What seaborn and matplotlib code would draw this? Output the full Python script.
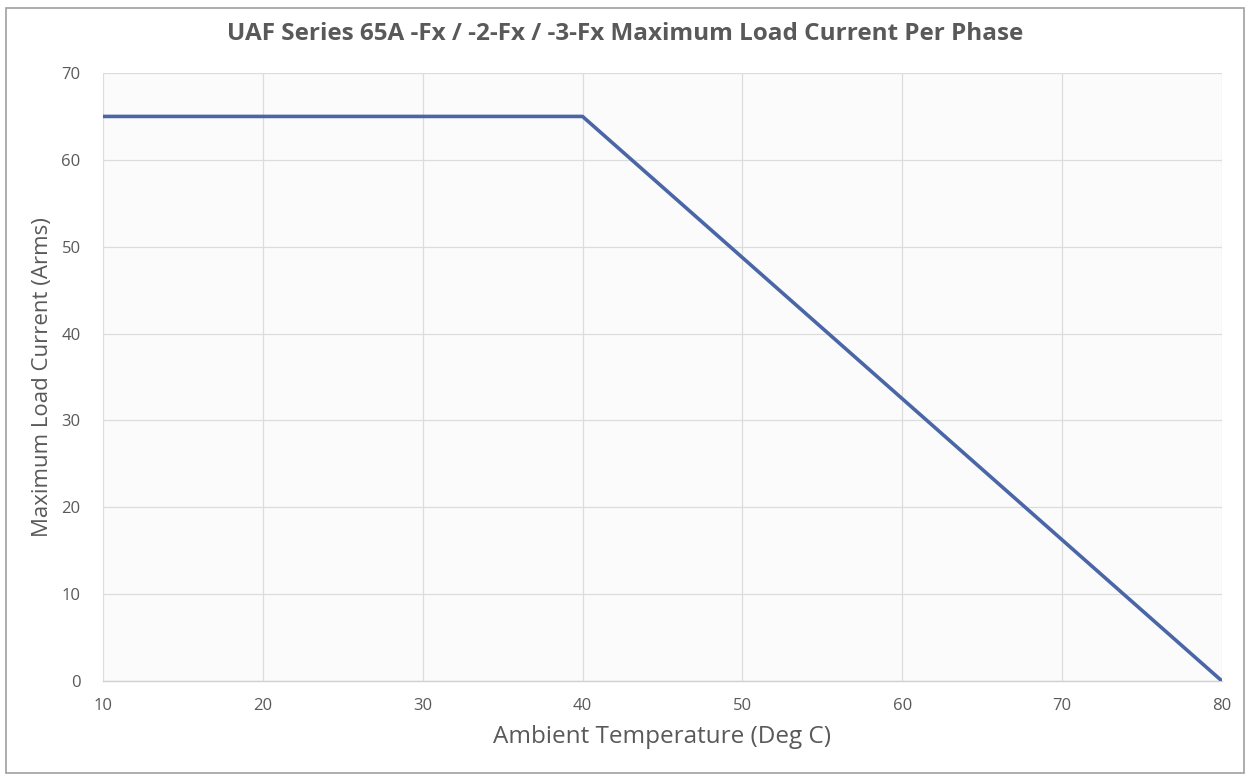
import matplotlib
matplotlib.use("Agg")
import matplotlib.pyplot as plt
import seaborn as sns
import pandas as pd
from matplotlib.patches import Rectangle

temperature = [10, 40, 80]
current = [65, 65, 0]
x_ticks = [10, 20, 30, 40, 50, 60, 70, 80]
y_ticks = [0, 10, 20, 30, 40, 50, 60, 70]
title = "UAF Series 65A -Fx / -2-Fx / -3-Fx Maximum Load Current Per Phase"
x_label = "Ambient Temperature (Deg C)"
y_label = "Maximum Load Current (Arms)"

sns.set_theme(style="white")
plt.rcParams['font.family'] = ['Open Sans', 'DejaVu Sans']

df = pd.DataFrame({"temp": temperature, "current": current})

fig = plt.figure(figsize=(12.51, 7.8), dpi=100)
ax = fig.add_axes([0.0823, 0.1269, 0.8945, 0.7795])
ax.set_facecolor('#fbfbfb')

sns.lineplot(data=df, x="temp", y="current", ax=ax, color='#4a66a6', linewidth=2.6, zorder=3)

ax.set_xlim(10, 80)
ax.set_ylim(0, 70)
ax.set_xticks(x_ticks)
ax.set_yticks(y_ticks)
ax.grid(True, color='#dcdcdc', linewidth=0.9)
for s in ['top', 'right', 'left']:
    ax.spines[s].set_visible(False)
ax.spines['bottom'].set_color('#d0d0d0')
ax.spines['bottom'].set_linewidth(1.0)
ax.tick_params(axis='both', length=0, labelsize=12, colors='#595959')
ax.tick_params(axis='x', pad=12)
ax.tick_params(axis='y', pad=16)

ax.set_xlabel(x_label, fontsize=17.5, color='#595959', labelpad=8)
ax.set_ylabel(y_label, fontsize=16, color='#595959', labelpad=6)
fig.text(0.5, 1 - 34/780, title, ha='center', va='center', fontsize=17.5,
         fontweight='bold', color='#595959')

fig.patches.append(Rectangle((6/1251, 7/780), 1238/1251, 765/780, transform=fig.transFigure,
                             fill=False, edgecolor='#a0a0a0', linewidth=1.2))

fig.savefig("out.png", dpi=100, facecolor='white')
